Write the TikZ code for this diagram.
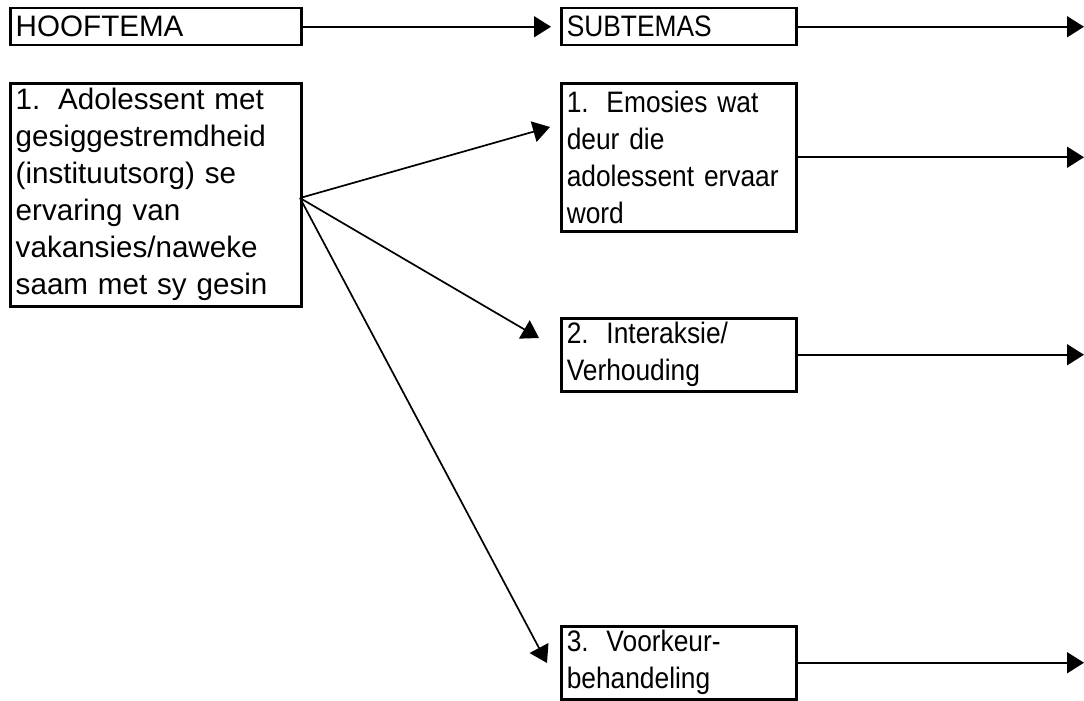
\documentclass[tikz,border=0pt]{standalone}
\usepackage{fontspec}
\setmainfont{Liberation Sans}
\newfontfamily\condfont[FakeStretch=0.89,WordSpace=0.89]{Liberation Sans}
\usetikzlibrary{arrows.meta}
\tikzset{
  box/.style={draw, line width=2.5pt, anchor=north west, inner xsep=5pt, inner ysep=0pt,
    align=left, font=\fontsize{29.6}{37}\selectfont},
  wide/.style={text width=280pt},
  narrow/.style={text width=224pt, font=\condfont\fontsize{29.6}{37}\selectfont},
  conn/.style={line width=1.7pt, -{Triangle[length=17pt,width=21pt]}}
}
\begin{document}
\begin{tikzpicture}[x=1pt,y=-1pt]
\useasboundingbox (0,0) rectangle (1084,701);
\node[box, wide, minimum width=291pt, minimum height=37pt] (hoof) at (9,7) {HOOFTEMA};
\node[box, wide, minimum width=291pt, minimum height=223pt] (main) at (9,82)
  {1.\hspace{0.6em}Adolessent met\\gesiggestremdheid\\(instituutsorg) se\\ervaring van\\vakansies/naweke\\saam met sy gesin};
\node[box, narrow, minimum width=235pt, minimum height=37pt] (sub) at (560,7) {SUBTEMAS};
\node[box, narrow, minimum width=235pt, minimum height=148pt] (s1) at (560,82)
  {1.\hspace{0.6em}Emosies wat\\deur die\\adolessent ervaar\\word};
\node[box, narrow, minimum width=235pt, minimum height=73pt] (s2) at (560,317)
  {2.\hspace{0.6em}Interaksie/\\Verhouding};
\node[box, narrow, minimum width=235pt, minimum height=73pt] (s3) at (560,625)
  {3.\hspace{0.6em}Voorkeur-\\behandeling};
\coordinate (a1) at (550,127);
\coordinate (a2) at (539,338);
\coordinate (a3) at (547,663);
\coordinate (right) at (1084,0);
\coordinate (src) at (300,198);
\draw[conn] (hoof.east) -- ([xshift=-9pt]sub.west);
\draw[conn] (sub.east) -- (sub.east -| right);
\draw[conn] (src) -- (a1);
\draw[conn] (src) -- (a2);
\draw[conn] (src) -- (a3);
\draw[conn] (s1.east) -- (s1.east -| right);
\draw[conn] (s2.east) -- (s2.east -| right);
\draw[conn] (s3.east) -- (s3.east -| right);
\end{tikzpicture}
\end{document}
